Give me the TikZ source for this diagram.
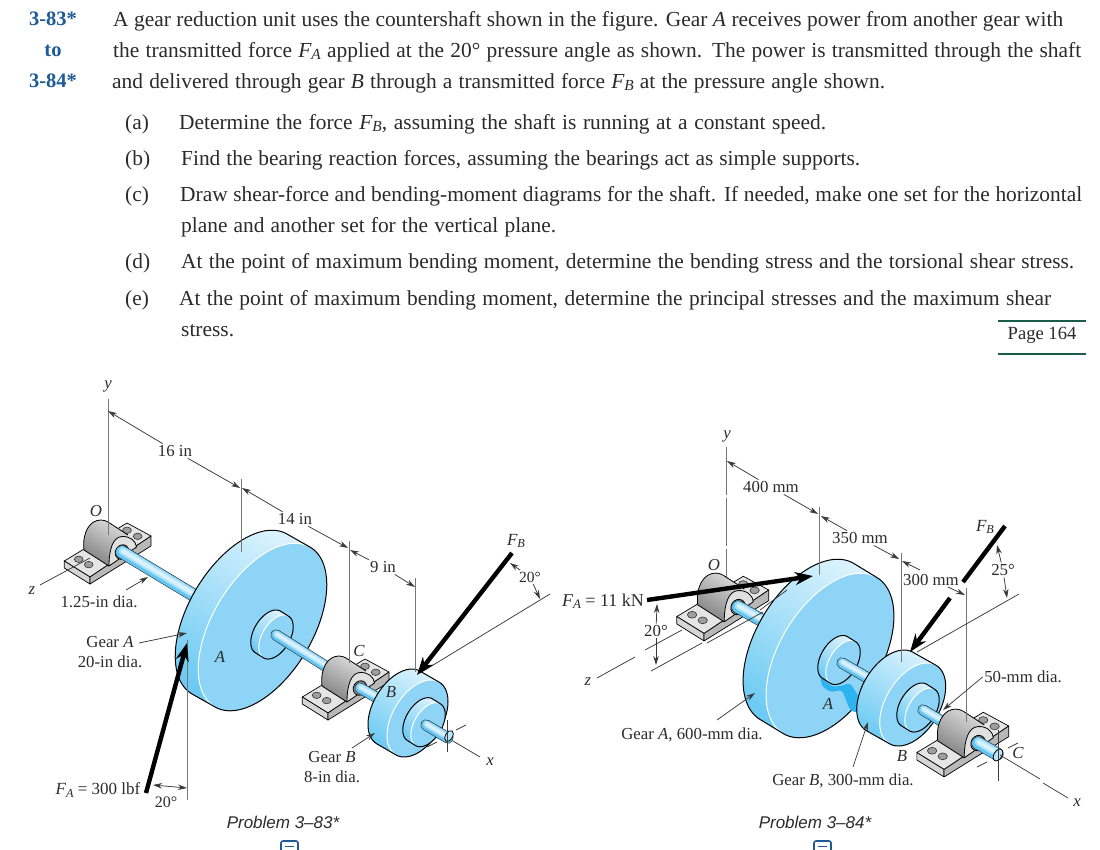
\documentclass[tikz,border=0pt]{standalone}
\usepackage{fontspec}
\setmainfont{Liberation Serif}
\newfontfamily\probfont{Liberation Sans}
\usetikzlibrary{arrows.meta}
\definecolor{facec}{HTML}{8DD4F6}
\definecolor{deepc}{HTML}{2DB3EF}
\definecolor{palec}{HTML}{D9F2FD}
\definecolor{midc}{HTML}{6CCAF3}
\definecolor{numc}{HTML}{1F5A96}
\definecolor{txtc}{HTML}{2B2B2B}
\definecolor{linec}{HTML}{3A3A3A}
\definecolor{extc}{HTML}{777777}
\definecolor{rulec}{HTML}{1A5C4A}
\tikzset{
 bodytext/.style={anchor=base west,inner sep=0pt,text=txtc,font=\fontsize{21.4}{25}\selectfont},
 numtext/.style={anchor=base,inner sep=0pt,text=numc,font=\fontsize{20.5}{24}\selectfont\bfseries},
 lab/.style={inner sep=1.5pt,text=txtc,font=\fontsize{16.8}{20.5}\selectfont,align=center},
 ilab/.style={lab,font=\fontsize{16.8}{20.5}\selectfont\itshape},
 prob/.style={inner sep=0pt,text=txtc,font=\fontsize{17}{20}\selectfont\probfont\itshape},
 dim/.style={draw=linec,line width=.75pt,-{Stealth[length=9pt,width=5.5pt]}},
 thin line/.style={draw=linec,line width=.75pt},
 ext/.style={draw=extc,line width=.9pt},
 force/.style={draw=black,line width=4.4pt,-{Stealth[length=18pt,width=13pt]}},
 forceplain/.style={draw=black,line width=4.4pt},
 basetop/.style={fill=black!10,draw=black,line width=.7pt,line join=round},
 baseleft/.style={fill=black!16,draw=black,line width=.7pt,line join=round},
 baseright/.style={fill=black!28,draw=black,line width=.7pt,line join=round},
 bolt/.style={fill=black!38,draw=black!80,line width=.6pt},
 iconbox/.style={draw=numc,line width=1.6pt,rounded corners=2pt,fill=white},
}
\newcommand\fs[2]{{\itshape #1}\raisebox{-.28ex}{\scalebox{.72}{\itshape #2}}}
% front-face centre cx cy, radii a b, rotation, offset dx dy to the rear face, shading options
\newcommand\cyl[8]{%
 \pgfmathsetmacro\cUx{cos(#5)}\pgfmathsetmacro\cUy{-sin(#5)}%
 \pgfmathsetmacro\cVx{sin(#5)}\pgfmathsetmacro\cVy{cos(#5)}%
 \pgfmathsetmacro\cDu{#6*\cUx+#7*\cUy}\pgfmathsetmacro\cDv{#6*\cVx+#7*\cVy}%
 \pgfmathsetmacro\cTa{atan2(-#4*\cDu,#3*\cDv)}%
 \pgfmathsetmacro\cTb{\cTa+180}\pgfmathsetmacro\cTc{\cTa+360}%
 \def\cHull{plot[domain=\cTa:\cTb,samples=70] ({#1+#6+#3*cos(\x)*\cUx+#4*sin(\x)*\cVx},{#2+#7+#3*cos(\x)*\cUy+#4*sin(\x)*\cVy})
   -- plot[domain=\cTb:\cTc,samples=70] ({#1+#3*cos(\x)*\cUx+#4*sin(\x)*\cVx},{#2+#3*cos(\x)*\cUy+#4*sin(\x)*\cVy}) -- cycle}%
 \shade[#8] \cHull;
 \fill[facec] plot[domain=0:360,samples=100] ({#1+#3*cos(\x)*\cUx+#4*sin(\x)*\cVx},{#2+#3*cos(\x)*\cUy+#4*sin(\x)*\cVy}) -- cycle;
 \draw[white,line width=1pt] plot[domain=\cTa:\cTb,samples=70] ({#1+#3*cos(\x)*\cUx+#4*sin(\x)*\cVx},{#2+#3*cos(\x)*\cUy+#4*sin(\x)*\cVy});
 \draw[black,line width=1pt,line join=round] \cHull;
}
\tikzset{bandshade/.style={top color=palec,middle color=deepc,bottom color=midc,shading angle=-31}}
% shaft from x1 y1 to x2 y2, width
\newcommand\shaftseg[5]{%
 \draw[black!85,line cap=round,line width={(#5+1.1)*1pt}] (#1,#2)--(#3,#4);
 \draw[deepc!75!white,line cap=round,line width={#5*1pt}] (#1,#2)--(#3,#4);
 \draw[facec!70!white,line cap=round,line width={#5*.66pt},shift={({#5*.05},{-#5*.09})}] (#1,#2)--(#3,#4);
 \draw[palec,line cap=round,line width={#5*.32pt},shift={({#5*.05},{-#5*.09})}] (#1,#2)--(#3,#4);
}
\newcommand\bearing[3]{%
 \begin{scope}[shift={(#1,#2)},scale=#3]
 \filldraw[basetop] (-57.7,9)--(5,-29)--(29,-16)--(-32,25)--cycle;
 \filldraw[baseleft] (-57.7,9)--(-32,25)--(-32,32)--(-57.7,16)--cycle;
 \filldraw[baseright] (-32,25)--(29,-16)--(29,-6)--(-32,32)--cycle;
 \filldraw[bolt] (-43.3,7.3) ellipse [x radius=4.4pt,y radius=3.2pt];
 \filldraw[bolt] (-33.3,12.6) ellipse [x radius=4.4pt,y radius=3.2pt];
 \filldraw[bolt] (5,-21.7) ellipse [x radius=4.4pt,y radius=3.2pt];
 \filldraw[bolt] (15.7,-15.7) ellipse [x radius=4.4pt,y radius=3.2pt];
 \shade[top color=black!14,middle color=black!22,bottom color=black!50,shading angle=-30] (-38,-2) .. controls (-40,-20) and (-32,-32) .. (-21,-32) .. controls (-18,-32) and (-16,-31) .. (-14,-30) -- (6,-17) -- (-13,14) -- cycle;
 \draw[black,line width=.8pt,line join=round] (-13,14) -- (-38,-2) .. controls (-40,-20) and (-32,-32) .. (-21,-32) .. controls (-18,-32) and (-16,-31) .. (-14,-30) -- (6,-17);
 \filldraw[fill=black!12,draw=black,line width=.8pt,line join=round] (-13,14) .. controls (-13,-3) and (-9,-15) .. (0,-15.5) .. controls (8,-16) and (14,-11) .. (14.5,-5) -- cycle;
 \filldraw[fill=black!45,draw=black,line width=.8pt] (0,0) ellipse [x radius=7.5pt,y radius=6.5pt,rotate=58];
 \end{scope}%
}
\begin{document}
\begin{tikzpicture}[x=1pt,y=-1pt]
\useasboundingbox (0,0) rectangle (1100,849);
\fill[white] (0,0) rectangle (1100,849);
% ---------- text ----------
\node[numtext] (n1) at (53,25) {3-83*};
\node[numtext] (n2) at (53,56) {to};
\node[numtext] (n3) at (53,87) {3-84*};
\node[bodytext] (l1) at (113,26) {\makebox[950pt][s]{A gear reduction unit uses the countershaft shown in the figure. Gear {\itshape A} receives power from another gear with}};
\node[bodytext] (l2) at (113,57) {\makebox[968pt][s]{the transmitted force \fs{F}{A} applied at the 20° pressure angle as shown. The power is transmitted through the shaft}};
\node[bodytext] (l3) at (112,88) {\makebox[773pt][s]{and delivered through gear {\itshape B} through a transmitted force \fs{F}{B} at the pressure angle shown.}};
\node[bodytext] (pa) at (125,129) {(a)};
\node[bodytext] (ta) at (179,129) {\makebox[647pt][s]{Determine the force \fs{F}{B}, assuming the shaft is running at a constant speed.}};
\node[bodytext] (pb) at (125,165) {(b)};
\node[bodytext] (tb) at (181,165) {\makebox[679pt][s]{Find the bearing reaction forces, assuming the bearings act as simple supports.}};
\node[bodytext] (pc) at (125,201) {(c)};
\node[bodytext] (tc) at (180,201) {\makebox[902pt][s]{Draw shear-force and bending-moment diagrams for the shaft. If needed, make one set for the horizontal}};
\node[bodytext] (tc2) at (181,232) {\makebox[375pt][s]{plane and another set for the vertical plane.}};
\node[bodytext] (pd) at (125,268) {(d)};
\node[bodytext] (td) at (181,268) {\makebox[893pt][s]{At the point of maximum bending moment, determine the bending stress and the torsional shear stress.}};
\node[bodytext] (pe) at (125,305) {(e)};
\node[bodytext] (te) at (179,305) {\makebox[872pt][s]{At the point of maximum bending moment, determine the principal stresses and the maximum shear}};
\node[bodytext] (te2) at (181,336) {stress.};
\coordinate (ra) at (998,321);\coordinate (rb) at (1086,321);\coordinate (rc) at (998,354);\coordinate (rd) at (1086,354);
\draw[rulec,line width=1.3pt] (ra)--(rb);
\draw[rulec,line width=1.3pt] (rc)--(rd);
\node[inner sep=0pt,text=txtc,font=\fontsize{18.6}{22}\selectfont] (page) at (1042,335) {Page 164};
% ---------- left figure ----------
\bearing{122}{552}{1}
\shaftseg{122}{552}{200}{599}{12}
\cyl{262.5}{627}{93}{50}{59}{-23}{-13}{bandshade}
\cyl{276}{637}{24.3}{13.8}{59}{-8}{-5}{bandshade}
\shaftseg{276}{635}{362}{689}{10}
\bearing{360}{688}{1}
\shaftseg{360}{688}{390}{705}{10}
\cyl{417.5}{718.5}{42.3}{24.9}{59}{-19}{-11}{bandshade}
\cyl{428}{724.7}{24.3}{13.8}{59}{-8}{-5}{bandshade}
\shaftseg{426}{725}{448}{738}{10}
\filldraw[fill=facec!60!white,draw=black,line width=.8pt] (449,736) ellipse [x radius=6pt,y radius=3.5pt,rotate=59];
% labels
\node[ilab] (ly) at (108,386) {y};
\node[ilab] (lO) at (96,511) {O};
\node[ilab] (lz) at (32,591) {z};
\node[lab] (l125) at (99,602) {1.25-in dia.};
\node[lab] (lgA) at (110,652) {Gear {\itshape A}\\20-in dia.};
\node[lab] (l16) at (175,451) {16 in};
\node[lab] (l14) at (295,519) {14 in};
\node[lab] (l9) at (383,567) {9 in};
\node[lab,font=\fontsize{17}{20}\selectfont] (lFB) at (516,541) {\fs{F}{B}};
\node[lab,font=\fontsize{15.5}{18}\selectfont] (l20b) at (530,577) {20°};
\node[ilab] (lA) at (220,657) {A};
\node[ilab] (lC) at (359,651) {C};
\node[ilab] (lB) at (391,692) {B};
\node[lab] (lgB) at (332,767) {Gear {\itshape B}\\8-in dia.};
\node[lab,font=\fontsize{17}{20}\selectfont] (lFA) at (98,790) {\fs{F}{A} = 300 lbf};
\node[lab,font=\fontsize{16}{19}\selectfont] (l20a) at (166,802) {20°};
\node[ilab] (lx) at (490,762) {x};
\node[prob] (p83) at (283,822) {Problem 3–83*};
% named ends
\coordinate (yT) at (108,399);\coordinate (yB) at (108,535);
\coordinate (e1T) at (241,479);\coordinate (e1B) at (241,552);
\coordinate (e2T) at (349,541);\coordinate (e2B) at (349,663);
\coordinate (e3T) at (415,578);\coordinate (e3B) at (415,672);
\coordinate (e4T) at (187,640);\coordinate (e4B) at (187,800);
\coordinate (d16a) at (108,411);\coordinate (d16b) at (240,488);
\coordinate (d14a) at (242,488);\coordinate (d14b) at (348,548);
\coordinate (d9a) at (350,550);\coordinate (d9b) at (415,587);
\draw[ext] (yT)--(yB);
\draw[ext] (e1T)--(e1B);
\draw[ext] (e2T)--(e2B);
\draw[ext] (e3T)--(e3B);
\draw[ext] (e4T)--(e4B);
\draw[dim] (l16)--(d16a);
\draw[dim] (l16)--(d16b);
\draw[dim] (l14)--(d14a);
\draw[dim] (l14)--(d14b);
\draw[dim] (l9)--(d9a);
\draw[dim] (l9)--(d9b);
\coordinate (l125a) at (126,590);\coordinate (l125b) at (148,577);
\draw[dim] (l125a)--(l125b);
\coordinate (lgAa) at (139,643);\coordinate (lgAb) at (187,633);
\draw[dim] (lgAa)--(lgAb);
\coordinate (lgBa) at (352,748);\coordinate (lgBb) at (375,733);
\draw[dim] (lgBa)--(lgBb);
\coordinate (zA) at (40,585);\coordinate (zB) at (90,558);
\draw[thin line] (zA)--(zB);
\coordinate (xA) at (453,741);\coordinate (xB) at (480,757);
\draw[thin line] (xA)--(xB);
\coordinate (tA) at (447,720);\coordinate (tB) at (447,752);
\draw[thin line] (tA)--(tB);
\coordinate (tC) at (456,730);\coordinate (tD) at (466,725);
\draw[thin line] (tC)--(tD);
\coordinate (tE) at (427,747);\coordinate (tF) at (437,742);
\draw[thin line] (tE)--(tF);
\coordinate (gbL) at (420,673);\coordinate (gbR) at (550,594);
\draw[thin line] (gbL)--(gbR);
\coordinate (FAs) at (146,793);\coordinate (FAe) at (187,643);
\draw[force] (FAs)--(FAe);
\coordinate (FBs) at (512,553);\coordinate (FBe) at (417,675);
\draw[force] (FBs)--(FBe);
\coordinate (a20a) at (153,785);\coordinate (a20b) at (187,788);
\draw[draw=linec,line width=.75pt,{Stealth[length=9pt,width=5.5pt]}-{Stealth[length=9pt,width=5.5pt]}] (a20a)--(a20b);
\coordinate (b20a) at (510,563);\coordinate (b20b) at (540,599);
\draw[dim] (l20b)--(b20a);
\draw[dim] (l20b)--(b20b);
% ---------- right figure ----------
\coordinate (yyT) at (726,447);\coordinate (yyB) at (726,583);
\draw[ext,dash pattern=on 48pt off 3pt] (yyT)--(yyB);
\bearing{738}{607}{1.06}
\shaftseg{738}{607}{770}{625}{12}
\coordinate (ln9) at (707,643);\coordinate (ln10) at (763,612);
\draw[thin line] (ln9)--(ln10);
\cyl{830}{655.5}{91}{50.7}{59}{-23}{-14}{bandshade}
\fill[deepc,rounded corners=3pt] (820,677) -- (833,687) -- (845,685) -- (850,683) -- (861,700) -- (857,713) -- (850,710) -- (842,690) -- (830,692) -- (822,686) -- cycle;
\cyl{843}{662.5}{24.3}{13.8}{59}{-8}{-5}{bandshade}
\shaftseg{842}{663}{880}{685}{10}
\cyl{912.7}{704.5}{45.6}{27}{59}{-23}{-13}{bandshade}
\cyl{922}{710}{24.3}{13.8}{59}{-8}{-5}{bandshade}
\shaftseg{923}{710}{975}{741}{10}
\bearing{978}{743}{1.06}
\shaftseg{978}{743}{997}{754}{12}
\filldraw[fill=facec!60!white,draw=black,line width=.8pt] (998,755) ellipse [x radius=6.5pt,y radius=4pt,rotate=59];
\node[ilab] (ry) at (727,436) {y};
\node[lab] (r400) at (771,487) {400 mm};
\node[ilab] (rO) at (714,565) {O};
\node[lab] (r350) at (860,538) {350 mm};
\node[lab,inner sep=0pt] (r300) at (931,580) {300 mm};
\node[lab,font=\fontsize{17}{20}\selectfont] (rFB) at (985,527) {\fs{F}{B}};
\node[lab] (r25) at (1003,570) {25°};
\node[lab,font=\fontsize{18}{21}\selectfont] (rFA) at (603,601) {\fs{F}{A} = 11 kN};
\node[lab] (r20) at (656,631) {20°};
\node[ilab] (rz) at (588,682) {z};
\node[lab] (rgA) at (692,735) {Gear {\itshape A}, 600-mm dia.};
\node[ilab] (rA) at (828,704) {A};
\node[ilab] (rB) at (902,756) {B};
\node[lab] (rgB) at (843,781) {Gear {\itshape B}, 300-mm dia.};
\node[lab] (r50) at (1023,677) {50-mm dia.};
\node[ilab] (rC) at (1018,753) {C};
\node[ilab] (rx) at (1077,803) {x};
\node[prob] (p84) at (815,822) {Problem 3–84*};
\coordinate (re1T) at (819,507);\coordinate (re1B) at (819,575);
\coordinate (re2T) at (901,553);\coordinate (re2B) at (901,662);
\coordinate (re3T) at (966,588);\coordinate (re3B) at (966,722);
\draw[ext] (re1T)--(re1B);
\draw[ext] (re2T)--(re2B);
\draw[ext] (re3T)--(re3B);
\coordinate (r4a) at (727,461);\coordinate (r4b) at (818,514);
\coordinate (r35a) at (821,516);\coordinate (r35b) at (899,559);
\coordinate (r3a) at (902,561);\coordinate (r3b) at (965,595);
\draw[dim] (r400)--(r4a);
\draw[dim] (r400)--(r4b);
\draw[dim] (r350)--(r35a);
\draw[dim] (r350)--(r35b);
\coordinate (r3s) at (920,570);\coordinate (r3t) at (948,587);
\draw[dim] (r3s)--(r3a);
\draw[dim] (r3t)--(r3b);
\coordinate (rFBs) at (1005,526);\coordinate (rFBm) at (963,582);
\draw[forceplain] (rFBs)--(rFBm);
\coordinate (rFBn) at (950,598);\coordinate (rFBe) at (910,652);
\draw[force] (rFBn)--(rFBe);
\coordinate (rtL) at (917,652);\coordinate (rtR) at (1019,594);
\draw[thin line] (rtL)--(rtR);
\coordinate (r25a) at (997,545);\coordinate (r25b) at (1007,598);
\draw[dim] (r25)--(r25a);
\draw[dim] (r25)--(r25b);
\coordinate (rFAs) at (647,600);\coordinate (rFAe) at (813,576);
\draw[force] (rFAs)--(rFAe);
\coordinate (r20a) at (657,604);\coordinate (r20b) at (656,665);
\draw[dim] (r20)--(r20a);
\draw[dim] (r20)--(r20b);
\coordinate (ln1) at (651,671);\coordinate (ln2) at (702,643);
\draw[thin line] (ln1)--(ln2);
\coordinate (ln3) at (597,678);\coordinate (ln4) at (635,657);
\coordinate (ln5) at (645,650);\coordinate (ln6) at (682,630);
\draw[thin line] (ln3)--(ln4);
\draw[thin line] (ln5)--(ln6);
\coordinate (ln7) at (760,610);\coordinate (ln8) at (787,590);
\draw[thin line] (ln7)--(ln8);
\coordinate (lga1) at (717,720);\coordinate (lga2) at (755,693);
\draw[dim] (lga1)--(lga2);
\coordinate (lgb1) at (853,767);\coordinate (lgb2) at (868,722);
\draw[dim] (lgb1)--(lgb2);
\coordinate (l50e) at (943,710);
\draw[dim] (r50.west)--(l50e);
\coordinate (rxa) at (1000,755);\coordinate (rxb) at (1040,779);
\coordinate (rxc) at (1043,783);\coordinate (rxd) at (1068,798);
\draw[thin line] (rxa)--(rxb);
\draw[thin line] (rxc)--(rxd);
\coordinate (rt1) at (998,730);\coordinate (rt2) at (998,781);
\draw[thin line] (rt1)--(rt2);
\coordinate (rt3) at (1008,748);\coordinate (rt4) at (1018,743);
\draw[thin line] (rt3)--(rt4);
\coordinate (rt5) at (977,767);\coordinate (rt6) at (987,762);
\draw[thin line] (rt5)--(rt6);
% ---------- icons at the page foot ----------
\filldraw[iconbox] (281,841) rectangle (298,860);
\draw[numc,line width=1pt] (285,846)--(294,846);
\filldraw[iconbox] (814,841) rectangle (831,860);
\draw[numc,line width=1pt] (818,846)--(827,846);
\end{tikzpicture}
\end{document}
